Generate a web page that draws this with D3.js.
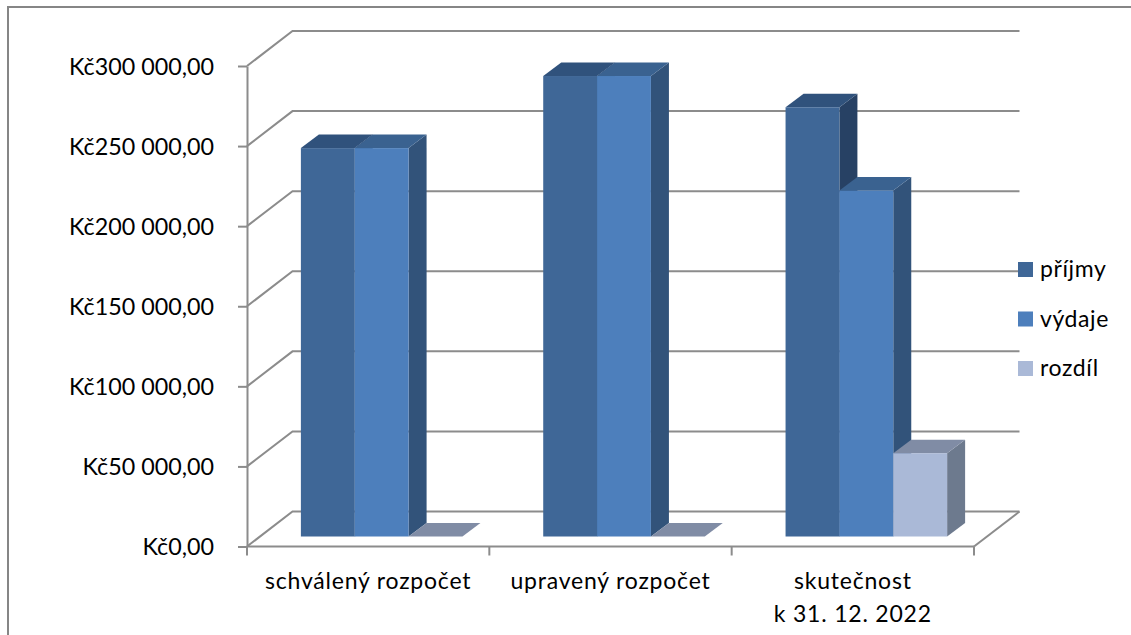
<!DOCTYPE html>
<html>
<head>
<meta charset="utf-8">
<script src="https://cdn.jsdelivr.net/npm/d3@7"></script>
<style>
  html, body { margin: 0; padding: 0; background: #fff; }
  svg { display: block; }
  text { font-family: Lato, "Open Sans", sans-serif; fill: #000; }
</style>
</head>
<body>
<div id="chart"></div>
<script>
const WIDTH = 1131, HEIGHT = 635;

const categories = ["schválený rozpočet", "upravený rozpočet", "skutečnost\nk 31. 12. 2022"];
const seriesNames = ["příjmy", "výdaje", "rozdíl"];
const prijmy = [242500, 287500, 268000];
const vydaje = [242500, 287500, 216000];
const rozdil = [0, 0, 52000];
const yTicks = [0, 50000, 100000, 150000, 200000, 250000, 300000];
const yTickLabels = ["Kč0,00", "Kč50 000,00", "Kč100 000,00", "Kč150 000,00", "Kč200 000,00", "Kč250 000,00", "Kč300 000,00"];

const seriesValues = [prijmy, vydaje, rozdil];
const COLOR_FRONT = ["#3f6797", "#4d7fbc", "#aab9d7"];
const COLOR_TOP = ["#30527c", "#3a6290", "#808ca5"];
const COLOR_SIDE = ["#274164", "#32537a", "#6d7a8e"];
const COLOR_GRID = "#8c8c8c";

// 3d offsets: back wall, and the plane the bars stand on
const WALL = { dx: 45.5, dy: -35 };
const BAR_PLANE = { dx: 13.5, dy: -10 };
const BAR_DEPTH = { dx: 18, dy: -13.5 };

const svg = d3.select("#chart")
    .append("svg")
    .attr("width", WIDTH)
    .attr("height", HEIGHT)
    .attr("viewBox", `0 0 ${WIDTH} ${HEIGHT}`);

// Outer frame
svg.append("path")
    .attr("d", "M8,635V7H1131")
    .attr("fill", "none")
    .attr("stroke", "#868686")
    .attr("stroke-width", 2);

const x = d3.scaleBand()
    .domain(categories)
    .range([247, 974]);

const y = d3.scaleLinear()
    .domain([0, 300000])
    .range([546.5, 66]);

// Bars fill 2/3 of a band
const xSeries = d3.scaleBand()
    .domain(seriesNames)
    .range([x.bandwidth() / 6, x.bandwidth() * 5 / 6]);

// Gridlines: slanted part on the side wall, flat part on the back wall
svg.selectAll("path.grid")
    .data(yTicks)
    .join("path")
    .attr("class", "grid")
    .attr("d", d => `M${x.range()[0]},${y(d)}l${WALL.dx},${WALL.dy}H${x.range()[1] + WALL.dx}`)
    .attr("fill", "none")
    .attr("stroke", COLOR_GRID)
    .attr("stroke-width", 2);

// Floor
svg.append("path")
    .attr("d", `M${x.range()[1]},${y(0)}l${WALL.dx},${WALL.dy}`)
    .attr("fill", "none")
    .attr("stroke", COLOR_GRID)
    .attr("stroke-width", 2);

// Axes
const yAxis = svg.append("g")
    .attr("transform", `translate(${x.range()[0]},0)`)
    .call(d3.axisLeft(y).tickValues(yTicks).tickFormat((d, i) => yTickLabels[i]).tickSize(9).tickSizeOuter(0).tickPadding(24));
yAxis.selectAll("line,path").attr("stroke", COLOR_GRID).attr("stroke-width", 2);
yAxis.selectAll("text").style("font-size", "23.3px").style("fill", "#000").attr("dy", "0.36em");

const xAxis = svg.append("g");
xAxis.append("line")
    .attr("x1", x.range()[0])
    .attr("x2", x.range()[1])
    .attr("y1", y(0))
    .attr("y2", y(0))
    .attr("stroke", COLOR_GRID)
    .attr("stroke-width", 2);
xAxis.selectAll("line.tick")
    .data(categories.map(c => x(c)).concat(x.range()[1]))
    .join("line")
    .attr("class", "tick")
    .attr("x1", d => d)
    .attr("x2", d => d)
    .attr("y1", y(0))
    .attr("y2", y(0) + 9)
    .attr("stroke", COLOR_GRID)
    .attr("stroke-width", 2);
xAxis.selectAll("text.cat")
    .data(categories)
    .join("text")
    .attr("class", "cat")
    .attr("text-anchor", "middle")
    .style("font-size", "23px")
    .style("letter-spacing", "0.8px")
    .each(function (d) {
        d3.select(this).selectAll("tspan")
            .data(d.split("\n"))
            .join("tspan")
            .attr("x", x(d) + x.bandwidth() / 2)
            .attr("y", (l, i) => 589 + i * 32.5)
            .text(l => l);
    });

// Bars, left to right so neighbours cover each other correctly
const bars = [];
categories.forEach((c, ci) => {
    seriesNames.forEach((s, si) => {
        bars.push({ category: c, series: s, si: si, value: seriesValues[si][ci] });
    });
});

const barX = d => x(d.category) + xSeries(d.series) + BAR_PLANE.dx;
const barTop = d => y(d.value) + BAR_PLANE.dy;
const barBase = y(0) + BAR_PLANE.dy;
const bw = xSeries.bandwidth();

const barGroups = svg.selectAll("g.bar")
    .data(bars)
    .join("g")
    .attr("class", "bar");

barGroups.filter(d => d.value > 0).append("path")
    .attr("d", d => `M${barX(d) + bw},${barTop(d)}l${BAR_DEPTH.dx},${BAR_DEPTH.dy}V${barBase + BAR_DEPTH.dy}l${-BAR_DEPTH.dx},${-BAR_DEPTH.dy}Z`)
    .attr("fill", d => COLOR_SIDE[d.si]);

barGroups.append("path")
    .attr("d", d => `M${barX(d)},${barTop(d)}l${BAR_DEPTH.dx},${BAR_DEPTH.dy}h${bw}l${-BAR_DEPTH.dx},${-BAR_DEPTH.dy}Z`)
    .attr("fill", d => COLOR_TOP[d.si]);

barGroups.filter(d => d.value > 0).append("rect")
    .attr("x", barX)
    .attr("y", barTop)
    .attr("width", bw)
    .attr("height", d => barBase - barTop(d))
    .attr("fill", d => COLOR_FRONT[d.si]);

// Legend
const legendY = d3.scalePoint().domain(seriesNames).range([262, 361]);
const legend = svg.selectAll("g.legend")
    .data(seriesNames)
    .join("g")
    .attr("class", "legend")
    .attr("transform", d => `translate(1018,${legendY(d)})`);
legend.append("rect")
    .attr("width", 15)
    .attr("height", 15)
    .attr("fill", (d, i) => COLOR_FRONT[i]);
legend.append("text")
    .attr("x", 22)
    .attr("y", 15)
    .style("font-size", "23px")
    .style("letter-spacing", "0.6px")
    .text(d => d);
</script>
</body>
</html>
